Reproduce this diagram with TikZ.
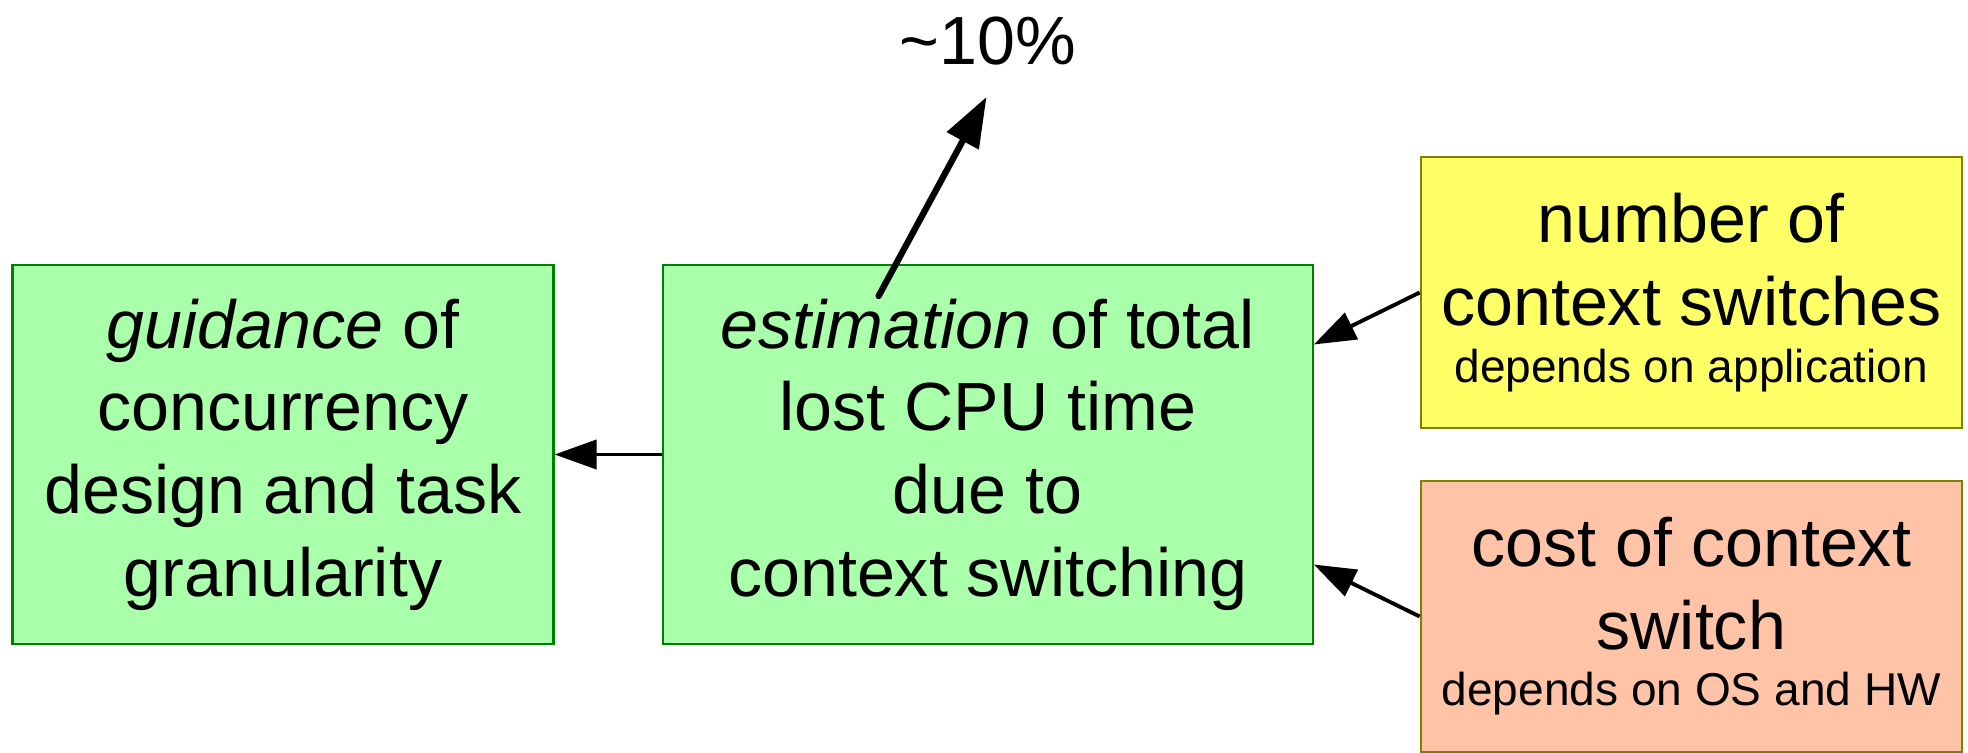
\documentclass[tikz,border=0pt]{standalone}
\usepackage{fontspec}
\setmainfont{Liberation Sans}
\usetikzlibrary{arrows.meta}
\definecolor{boxgreen}{RGB}{170,255,170}
\definecolor{linegreen}{RGB}{0,128,0}
\definecolor{boxyellow}{RGB}{255,255,102}
\definecolor{boxorange}{RGB}{255,196,168}
\definecolor{lineolive}{RGB}{128,128,0}
\newcommand{\depnote}[1]{{\fontsize{13.1}{15.9}\selectfont #1}}

\begin{document}
\begin{tikzpicture}[
    box/.style={draw, line width=0.6pt, inner sep=0pt, align=center, font=\fontsize{19.4}{23.5}\selectfont},
    greenbox/.style={box, draw=linegreen, fill=boxgreen, minimum height=3.79cm},
    sidebox/.style={box, draw=lineolive, minimum width=5.41cm, minimum height=2.71cm},
    arr/.style={-{Triangle[length=0.42cm,width=0.29cm]}, line width=1.1pt}]
    \useasboundingbox (0,0) rectangle (19.68,7.52);
    \node[greenbox, minimum width=5.41cm] (guide) at (2.83,2.975) {\textit{guidance} of\\concurrency\\design and task\\granularity};
    \node[greenbox, minimum width=6.5cm] (est) at (9.8775,2.975) {\textit{estimation} of total\\lost CPU time\\due to\\context switching};
    \node[sidebox, fill=boxyellow] (num) at (16.9125,4.595) {number of\\context switches\\[-7.4pt]\depnote{depends on application}};
    \node[sidebox, fill=boxorange] (cost) at (16.9125,1.355) {cost of context\\switch\\[-7.4pt]\depnote{depends on OS and HW}};
    \node[font=\fontsize{19.4}{23.5}\selectfont] (pct) at (9.88,7.11) {\textasciitilde 10\%};
    \coordinate (tail) at (8.786,4.56);
    \draw[arr] (est.west) -- (guide.east);
    \draw[arr] (num.west) -- ([yshift=1.1cm]est.east);
    \draw[arr] (cost.west) -- ([yshift=-1.1cm]est.east);
    \draw[-{Triangle[length=0.5cm,width=0.35cm]}, line width=1.8pt, line cap=round, shorten >=0.22cm] (tail) -- ([xshift=0.9mm]pct.south);
\end{tikzpicture}
\end{document}
